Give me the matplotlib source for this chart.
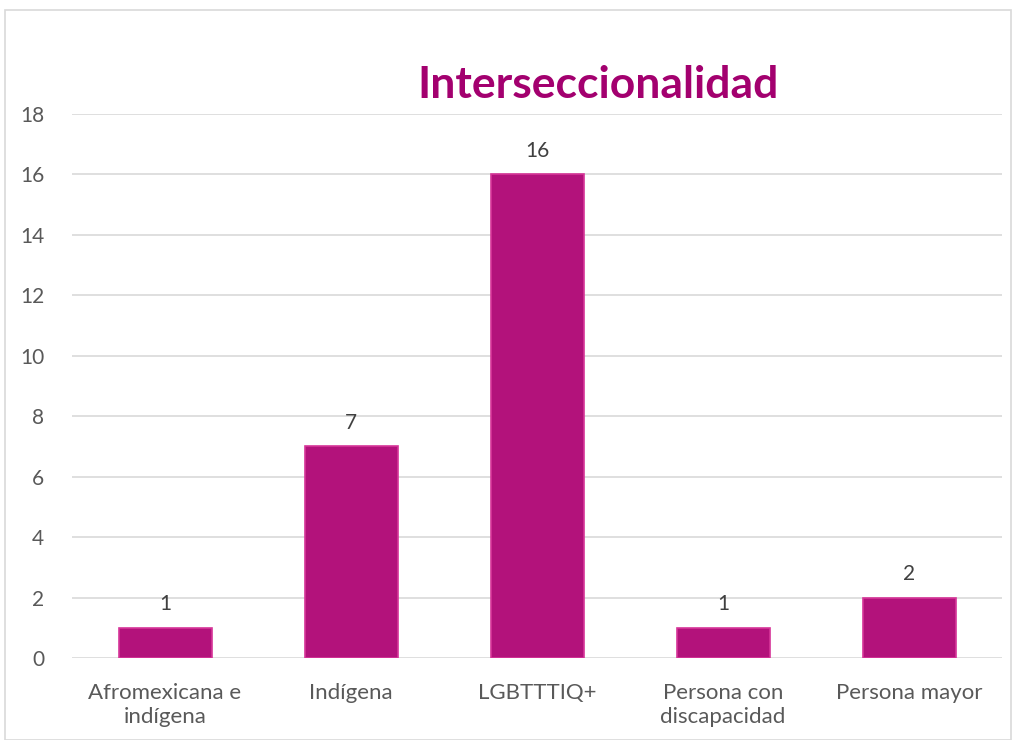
import matplotlib
matplotlib.use("Agg")
import matplotlib.pyplot as plt
from matplotlib.patches import Rectangle

categories = ["Afromexicana e\nindígena", "Indígena", "LGBTTTIQ+", "Persona con\ndiscapacidad", "Persona mayor"]
values = [1, 7, 16, 1, 2]
yticks = [0, 2, 4, 6, 8, 10, 12, 14, 16, 18]

plt.rcParams['font.family'] = ['Lato', 'DejaVu Sans']

fig = plt.figure(figsize=(10.16, 7.4), dpi=100)
fig.patches.append(Rectangle((5/1016, 0), 1006/1016, 1 - 10/740, transform=fig.transFigure,
                             fill=False, edgecolor='#D9D9D9', linewidth=1.2))
ax = fig.add_axes([72/1016, 1 - 658/740, 930/1016, (658 - 114)/740])

x = range(len(categories))
bars = ax.bar(x, values, width=0.5, color='#B3127B', edgecolor='#D63598', linewidth=1.2, zorder=3)
for xi, v in zip(x, values):
    ax.text(xi, v + 0.45, str(v), ha='center', va='bottom', fontsize=15, color='#404040')

ax.set_xlim(-0.5, len(categories) - 0.5)
ax.set_ylim(0, 18)
ax.set_yticks(yticks)
ax.set_yticklabels([str(t) for t in yticks], fontsize=15, color='#595959')
ax.set_xticks(list(x))
ax.set_xticklabels(categories, fontsize=16, color='#595959', linespacing=1.25)
ax.tick_params(axis='x', length=0, pad=18)
ax.tick_params(axis='y', length=0, pad=20)
ax.grid(axis='y', color='#D9D9D9', linewidth=1.2, zorder=0)
for s in ax.spines.values():
    s.set_visible(False)

fig.text(598/1016, 1 - 85/740, "Interseccionalidad", ha='center', va='center',
         fontsize=32, fontweight='bold', color='#A3006F')

fig.savefig("out.png", dpi=100)
